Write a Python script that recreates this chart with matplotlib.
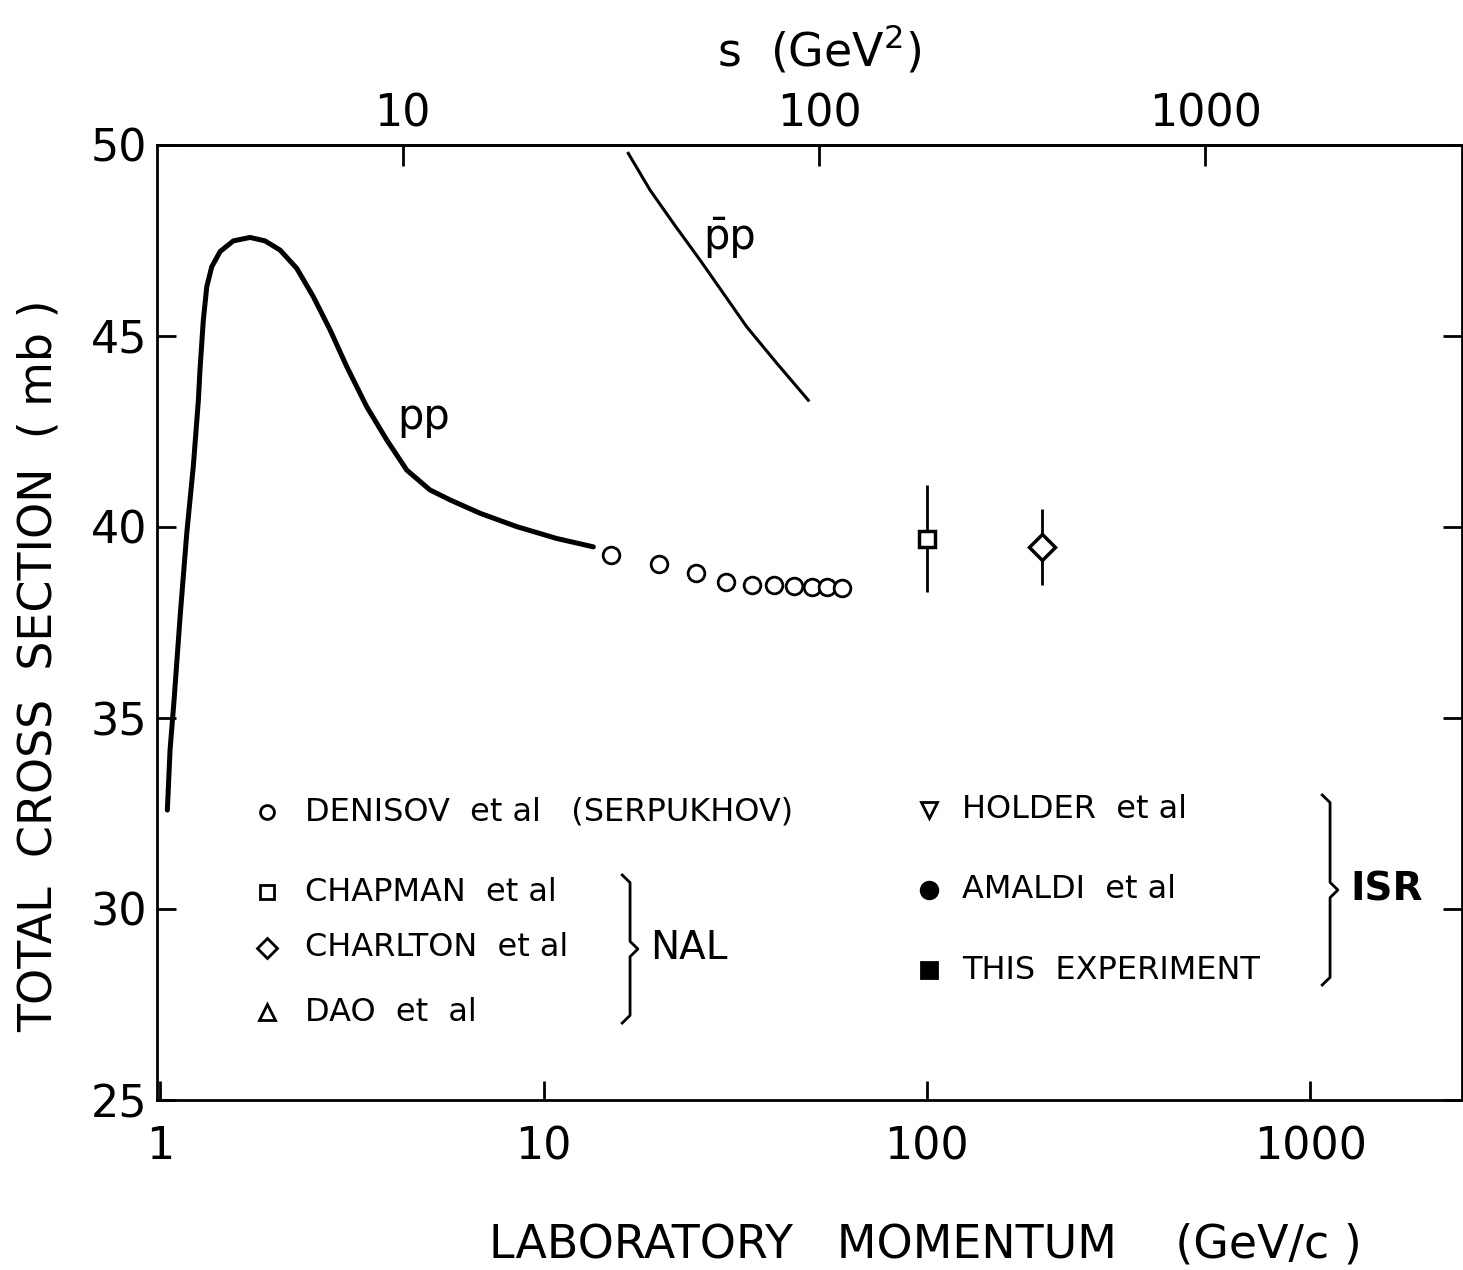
import numpy as np
import matplotlib.pyplot as plt
from matplotlib.ticker import NullLocator

M_P = 0.938  # proton mass, GeV

# pp total cross section curve (lab momentum GeV/c, mb)
pp_p = [1.045, 1.062, 1.088, 1.128, 1.174, 1.221, 1.259, 1.271, 1.297, 1.324,
        1.364, 1.434, 1.553, 1.717, 1.878, 2.056, 2.273, 2.510, 2.776, 3.068,
        3.459, 3.901, 4.399, 5.058, 5.704, 6.831, 8.514, 10.82, 13.49]
pp_sigma = [32.59, 34.16, 35.47, 37.65, 39.83, 41.58, 43.32, 44.11, 45.42, 46.29,
            46.81, 47.21, 47.49, 47.58, 47.49, 47.25, 46.77, 46.03, 45.16, 44.20,
            43.15, 42.28, 41.49, 40.97, 40.71, 40.36, 40.01, 39.70, 39.48]

# pbar-p curve
pbarp_p = [16.64, 18.96, 21.81, 25.59, 29.43, 33.88, 40.56, 49.03]
pbarp_sigma = [49.78, 48.82, 47.95, 46.99, 46.12, 45.24, 44.29, 43.32]

# Denisov et al (Serpukhov)
denisov_p = [15, 20, 25, 30, 35, 40, 45, 50, 55, 60]
denisov_sigma = [39.27, 39.03, 38.80, 38.56, 38.48, 38.48, 38.46, 38.43, 38.43, 38.40]

# NAL points
chapman_p = [100]
chapman_sigma = [39.69]
chapman_err = [1.4]
charlton_p = [200]
charlton_sigma = [39.48]
charlton_err = [1.0]

x_ticks = [1, 10, 100, 1000]
y_ticks = [25, 30, 35, 40, 45, 50]
s_ticks = [10, 100, 1000]


def p_to_s(p):
    p = np.asarray(p, dtype=float)
    return 2 * M_P**2 + 2 * M_P * np.sqrt(p**2 + M_P**2)


def s_to_p(s):
    s = np.asarray(s, dtype=float)
    e = (s - 2 * M_P**2) / (2 * M_P)
    return np.sqrt(np.clip(e**2 - M_P**2, 1e-12, None))


plt.rcParams['font.family'] = 'DejaVu Sans'

fig = plt.figure(figsize=(14.63, 12.70), dpi=100)
ax = fig.add_axes([157 / 1463, 1 - 1100 / 1270, 1305 / 1463, 955 / 1270])

ax.set_xscale('log')
ax.set_xlim(0.982, 2484)
ax.set_ylim(25, 50)

ax.plot(pp_p, pp_sigma, color='black', lw=3.6, solid_capstyle='round',
        solid_joinstyle='round')
ax.plot(pbarp_p, pbarp_sigma, color='black', lw=2.2, solid_joinstyle='round')

ax.plot(denisov_p, denisov_sigma, 'o', ms=12, mfc='white', mec='black', mew=2)
ax.errorbar(chapman_p, chapman_sigma, yerr=chapman_err, fmt='s', ms=12,
            mfc='white', mec='black', mew=2.5, ecolor='black', elinewidth=2, capsize=0)
ax.errorbar(charlton_p, charlton_sigma, yerr=charlton_err, fmt='D', ms=13,
            mfc='white', mec='black', mew=2.5, ecolor='black', elinewidth=2, capsize=0)

ax.text(4.86, 42.89, 'pp', fontsize=30, ha='center', va='center')
ax.text(30.64, 47.60, 'p\u0304p', fontsize=30, ha='center', va='center')

# axes styling
for sp in ax.spines.values():
    sp.set_linewidth(2)
ax.set_xticks(x_ticks, [str(t) for t in x_ticks])
ax.xaxis.set_minor_locator(NullLocator())
ax.set_yticks(y_ticks, [str(t) for t in y_ticks])
ax.tick_params(axis='x', direction='in', length=14, width=2, labelsize=32, pad=18, top=False)
ax.tick_params(axis='y', direction='in', length=14, width=2, labelsize=32, pad=7, right=True)

ax.set_xlabel('LABORATORY   MOMENTUM    (GeV/c )', fontsize=33, va='center')
ax.xaxis.set_label_coords(0.589, -0.152)
ax.set_ylabel('TOTAL  CROSS  SECTION  ( mb )', fontsize=33, va='center')
ax.yaxis.set_label_coords(-0.0904, 0.455)

sec = ax.secondary_xaxis('top', functions=(p_to_s, s_to_p))
sec.set_xticks(s_ticks, [str(t) for t in s_ticks])
sec.xaxis.set_minor_locator(NullLocator())
sec.tick_params(direction='in', length=15, width=2, labelsize=32, pad=7)
sec.spines['top'].set_linewidth(2)
sec.set_xlabel('s  (GeV$^{2}$)', fontsize=33, va='center')
sec.xaxis.set_label_coords(0.507, 1.0995, transform=ax.transAxes)

# key, drawn in axes coordinates
tr = ax.transAxes
key_left = [
    ('o', 'DENISOV  et al   (SERPUKHOV)', 0.3016, 10),
    ('s', 'CHAPMAN  et al', 0.2178, 10),
    ('D', 'CHARLTON  et al', 0.1592, 10),
    ('^', 'DAO  et  al', 0.0921, 12),
]
for mk, label, y, ms in key_left:
    ax.plot([0.0843], [y], mk, ms=ms, mfc='white', mec='black', mew=2,
            transform=tr, clip_on=False)
    ax.text(0.1134, y, label, fontsize=23, ha='left', va='center', transform=tr)

key_right = [
    ('v', 'HOLDER  et al', 0.3037, 'white', 12),
    ('o', 'AMALDI  et al', 0.2199, 'black', 12),
    ('s', 'THIS  EXPERIMENT', 0.1361, 'black', 11),
]
for mk, label, y, fc, ms in key_right:
    ax.plot([0.5916], [y], mk, ms=ms, mfc=fc, mec='black', mew=2,
            transform=tr, clip_on=False)
    ax.text(0.6169, y, label, fontsize=23, ha='left', va='center', transform=tr)


def brace(x, top, bottom, d=0.006, e=0.008):
    mid = 0.5 * (top + bottom)
    xs = [x - d, x, x, x + d, x, x, x - d]
    ys = [top, top - e, mid + e, mid, mid - e, bottom + e, bottom]
    ax.plot(xs, ys, color='black', lw=2, transform=tr, clip_on=False)


brace(0.3625, 0.2356, 0.0806)
ax.text(0.3778, 0.1592, 'NAL', fontsize=28, ha='left', va='center', transform=tr)
brace(0.8989, 0.3194, 0.1204)
ax.text(0.9142, 0.2199, 'ISR', fontsize=28, fontweight='bold', ha='left', va='center',
        transform=tr)

fig.savefig('out.png', dpi=100)
